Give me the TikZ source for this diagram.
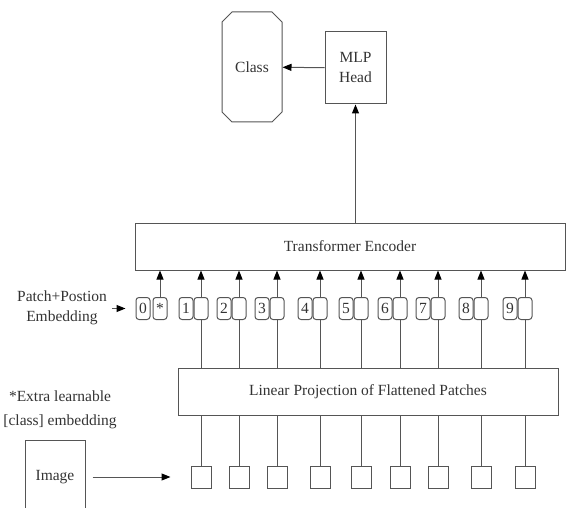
\documentclass[tikz,border=0pt]{standalone}
\usepackage{fontspec}
\setmainfont{Liberation Serif}
\usetikzlibrary{shapes.misc, positioning, arrows.meta}
\usepackage{xcolor}
\definecolor{linegray}{HTML}{555555}
\definecolor{textgray}{HTML}{333333}

\begin{document}
\begin{tikzpicture}[
    x=1pt, y=-1pt,
    every node/.style={font=\fontsize{15.5}{20}\selectfont, text=textgray},
    layer/.style={rectangle, draw=linegray, line width=1pt, minimum height=47pt},
    tok/.style={rectangle, rounded corners=3pt, draw=linegray, line width=1pt, minimum width=14pt, minimum height=22pt, inner sep=0pt},
    patch/.style={rectangle, draw=linegray, line width=1pt, minimum width=20pt, minimum height=22pt},
    arrow/.style={-{Triangle[length=9pt, width=7pt, color=black]}, draw=linegray, line width=1pt},
    link/.style={draw=linegray, line width=1pt}
]
    \useasboundingbox (0,0) rectangle (568,508);
    \clip (0,0) rectangle (568,508);

    \node[chamfered rectangle, chamfered rectangle xsep=5pt, chamfered rectangle ysep=5pt, draw=linegray, line width=1pt, minimum width=60pt, minimum height=110pt, inner sep=0pt] (class) at (252,67) {Class};
    \node[layer, minimum width=61pt, minimum height=72pt, align=center] (mlp) at (355.5,68) {MLP\\Head};
    \node[layer, minimum width=430pt] (enc) at (350,246.5) {Transformer Encoder};
    \node[layer, minimum width=380pt] (lin) at (368,391.5) {Linear Projection of Flattened Patches};
    \node[layer, minimum width=60pt, minimum height=74pt] (image) at (55,477) {Image};

    \node[align=center, inner sep=0pt] (embed) at (62,308) {Patch+Postion\\Embedding};
    \node[align=center, inner sep=0pt, font=\fontsize{15.5}{24}\selectfont] (extra) at (60,410) {*Extra learnable\\{[class]} embedding};

    % patch + position embeddings
    \node[tok] (b0) at (160,308.5) {*};
    \node[tok, left=2pt of b0] (n0) {0};
    \node[tok] (b1) at (201,308.5) {};
    \node[tok, left=0pt of b1] (n1) {1};
    \node[tok] (b2) at (239,308.5) {};
    \node[tok, left=0pt of b2] (n2) {2};
    \node[tok] (b3) at (277,308.5) {};
    \node[tok, left=0pt of b3] (n3) {3};
    \node[tok] (b4) at (320,308.5) {};
    \node[tok, left=0pt of b4] (n4) {4};
    \node[tok] (b5) at (361,308.5) {};
    \node[tok, left=0pt of b5] (n5) {5};
    \node[tok] (b6) at (400,308.5) {};
    \node[tok, left=0pt of b6] (n6) {6};
    \node[tok] (b7) at (438,308.5) {};
    \node[tok, left=0pt of b7] (n7) {7};
    \node[tok] (b8) at (481,308.5) {};
    \node[tok, left=0pt of b8] (n8) {8};
    \node[tok] (b9) at (525,308.5) {};
    \node[tok, left=0pt of b9] (n9) {9};

    % flattened patches
    \node[patch] (p1) at (201,477) {};
    \node[patch] (p2) at (239,477) {};
    \node[patch] (p3) at (277,477) {};
    \node[patch] (p4) at (320,477) {};
    \node[patch] (p5) at (361,477) {};
    \node[patch] (p6) at (400,477) {};
    \node[patch] (p7) at (438,477) {};
    \node[patch] (p8) at (481,477) {};
    \node[patch] (p9) at (525,477) {};

    \draw[arrow] (mlp) -- (class);
    \draw[arrow] (enc.north -| mlp) -- (mlp);
    \draw[arrow, shorten <=5pt, shorten >=10pt] (embed.east |- n0) -- (n0);
    \draw[arrow, shorten <=7pt, shorten >=20pt] (image.east |- p1) -- (p1);

    \draw[arrow] (b0) -- (b0 |- enc.south);
    \draw[arrow] (b1) -- (b1 |- enc.south);
    \draw[arrow] (b2) -- (b2 |- enc.south);
    \draw[arrow] (b3) -- (b3 |- enc.south);
    \draw[arrow] (b4) -- (b4 |- enc.south);
    \draw[arrow] (b5) -- (b5 |- enc.south);
    \draw[arrow] (b6) -- (b6 |- enc.south);
    \draw[arrow] (b7) -- (b7 |- enc.south);
    \draw[arrow] (b8) -- (b8 |- enc.south);
    \draw[arrow] (b9) -- (b9 |- enc.south);

    \draw[link] (lin.north -| b1) -- (b1);
    \draw[link] (lin.north -| b2) -- (b2);
    \draw[link] (lin.north -| b3) -- (b3);
    \draw[link] (lin.north -| b4) -- (b4);
    \draw[link] (lin.north -| b5) -- (b5);
    \draw[link] (lin.north -| b6) -- (b6);
    \draw[link] (lin.north -| b7) -- (b7);
    \draw[link] (lin.north -| b8) -- (b8);
    \draw[link] (lin.north -| b9) -- (b9);

    \draw[link] (p1) -- (p1 |- lin.south);
    \draw[link] (p2) -- (p2 |- lin.south);
    \draw[link] (p3) -- (p3 |- lin.south);
    \draw[link] (p4) -- (p4 |- lin.south);
    \draw[link] (p5) -- (p5 |- lin.south);
    \draw[link] (p6) -- (p6 |- lin.south);
    \draw[link] (p7) -- (p7 |- lin.south);
    \draw[link] (p8) -- (p8 |- lin.south);
    \draw[link] (p9) -- (p9 |- lin.south);
\end{tikzpicture}
\end{document}
